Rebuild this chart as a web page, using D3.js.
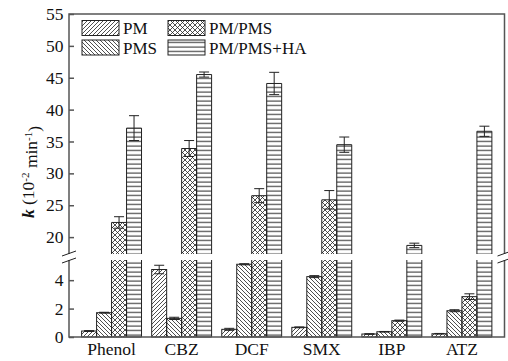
<!DOCTYPE html>
<html>
<head>
<meta charset="utf-8">
<script src="https://cdn.jsdelivr.net/npm/d3@7"></script>
<style>
  body { margin: 0; background: #fff; }
  svg { font-family: "Liberation Serif", "Times New Roman", serif; }
</style>
</head>
<body>
<svg id="chart" width="508" height="361"></svg>
<script>
var categories = ["Phenol", "CBZ", "DCF", "SMX", "IBP", "ATZ"]
var series = ["PM", "PMS", "PM/PMS", "PM/PMS+HA"]

var pm = [0.42, 4.75, 0.54, 0.68, 0.21, 0.23]
var pmErr = [0.03, 0.3, 0.07, 0.03, 0.02, 0.02]
var pms = [1.71, 1.31, 5.12, 4.25, 0.37, 1.85]
var pmsErr = [0.03, 0.08, 0.04, 0.07, 0.02, 0.07]
var pmPms = [22.3, 33.9, 26.5, 25.85, 1.15, 2.84]
var pmPmsErr = [0.9, 1.25, 1.1, 1.45, 0.04, 0.2]
var pmPmsHa = [37.1, 45.5, 44.1, 34.5, 18.7, 36.6]
var pmPmsHaErr = [1.95, 0.4, 1.75, 1.2, 0.35, 0.8]

var topTicks = [20, 25, 30, 35, 40, 45, 50, 55]
var bottomTicks = [0, 2, 4]

var values = [pm, pms, pmPms, pmPmsHa]
var errors = [pmErr, pmsErr, pmPmsErr, pmPmsHaErr]
var patternIds = ["hatchFwd", "hatchBack", "hatchCross", "hatchHoriz"]

var dim = {
  left: 69,
  right: 504.5,
  top: 14,
  bottom: 337,
  topSegBottom: 254,
  botSegTop: 260
}

var svg = d3.select("#chart")
var ink = "#222"
var axisColor = "#555"

// hatch patterns
var defs = svg.append("defs")
function pattern(id, w, h, d, sw){
  defs.append("pattern")
    .attr("id", id)
    .attr("patternUnits", "userSpaceOnUse")
    .attr("width", w)
    .attr("height", h)
    .append("path")
      .attr("d", d)
      .attr("stroke", ink)
      .attr("stroke-width", sw)
      .attr("fill", "none")
}
pattern("hatchFwd", 4, 4, "M-1,1 l2,-2 M0,4 l4,-4 M3,5 l2,-2", 0.8)
pattern("hatchBack", 4, 4, "M-1,3 l2,2 M0,0 l4,4 M3,-1 l2,2", 0.8)
pattern("hatchCross", 5, 5, "M0,0 l5,5 M5,0 l-5,5 M-1,4 l2,2 M4,-1 l2,2 M-1,1 l2,-2 M4,6 l2,-2", 0.8)
pattern("hatchHoriz", 10, 4.5, "M0,2 h10", 1)

var x = d3.scaleBand()
  .domain(categories)
  .range([dim.left, dim.right])
  .paddingInner(0.145)
  .paddingOuter(0.18)

var xs = d3.scaleBand()
  .domain(series)
  .range([0, x.bandwidth()])

var yTop = d3.scaleLinear()
  .domain([17.35, 55])
  .range([dim.topSegBottom, dim.top])

var yBot = d3.scaleLinear()
  .domain([0, 5.42])
  .range([dim.bottom, dim.botSegTop])

var botMax = yBot.domain()[1]

// bars
var bars = svg.append("g")
series.forEach(function(s, si){
  categories.forEach(function(c, ci){
    var v = values[si][ci]
    var x0 = x(c) + xs(s)
    var x1 = x0 + xs.bandwidth()
    var fill = "url(#" + patternIds[si] + ")"
    if(v <= botMax){
      bars.append("rect")
        .attr("x", x0)
        .attr("y", yBot(v))
        .attr("width", xs.bandwidth())
        .attr("height", yBot(0) - yBot(v))
        .attr("fill", fill)
        .attr("stroke", ink)
        .attr("stroke-width", 1)
    }
    else{
      bars.append("rect")
        .attr("x", x0)
        .attr("y", yBot(botMax))
        .attr("width", xs.bandwidth())
        .attr("height", yBot(0) - yBot(botMax))
        .attr("fill", fill)
      bars.append("path")
        .attr("d", `M${x0},${yBot(botMax)}V${yBot(0)}H${x1}V${yBot(botMax)}`)
        .attr("fill", "none")
        .attr("stroke", ink)
      var ty = yTop(v)
      bars.append("rect")
        .attr("x", x0)
        .attr("y", ty)
        .attr("width", xs.bandwidth())
        .attr("height", yTop.range()[0] - ty)
        .attr("fill", fill)
      bars.append("path")
        .attr("d", `M${x0},${yTop.range()[0]}V${ty}H${x1}V${yTop.range()[0]}`)
        .attr("fill", "none")
        .attr("stroke", ink)
    }
  })
})

// error bars
var errG = svg.append("g")
  .attr("stroke", ink)
  .attr("stroke-width", 1)
series.forEach(function(s, si){
  categories.forEach(function(c, ci){
    var v = values[si][ci]
    var e = errors[si][ci]
    var y = v <= botMax ? yBot : yTop
    var cx = x(c) + xs(s) + xs.bandwidth() / 2
    var hi = y(v + e), lo = y(v - e)
    errG.append("line")
      .attr("x1", cx).attr("x2", cx)
      .attr("y1", hi).attr("y2", lo)
    errG.append("line")
      .attr("x1", cx - 5).attr("x2", cx + 5)
      .attr("y1", hi).attr("y2", hi)
    errG.append("line")
      .attr("x1", cx - 5).attr("x2", cx + 5)
      .attr("y1", lo).attr("y2", lo)
  })
})

// frame with break
var frame = svg.append("g")
  .attr("stroke", axisColor)
  .attr("stroke-width", 1.5)
  .attr("fill", "none")
frame.append("path")
  .attr("d", `M${dim.left},${dim.topSegBottom}V${dim.top}H${dim.right}V${dim.topSegBottom}`)
frame.append("path")
  .attr("d", `M${dim.left},${dim.botSegTop}V${dim.bottom}H${dim.right}V${dim.botSegTop}`)

var breakG = svg.append("g")
  .attr("stroke", ink)
  .attr("stroke-width", 1)
;[dim.left, dim.right].forEach(function(ax){
  ;[dim.topSegBottom - 0.5, dim.botSegTop + 0.5].forEach(function(by){
    breakG.append("line")
      .attr("x1", ax - 7).attr("y1", by + 2.5)
      .attr("x2", ax + 7).attr("y2", by - 2.5)
  })
})

// y axes, ticks pointing inward
function yAxis(scale, ticks){
  var g = svg.append("g")
    .attr("transform", `translate(${dim.left},0)`)
    .call(d3.axisRight(scale).tickValues(ticks).tickSize(5).tickFormat(""))
  g.select(".domain").remove()
  g.selectAll("line").attr("stroke", axisColor).attr("stroke-width", 1.5)
  ticks.forEach(function(t){
    svg.append("text")
      .attr("x", dim.left - 5.5)
      .attr("y", scale(t))
      .attr("dy", "0.35em")
      .attr("text-anchor", "end")
      .style("font-size", "17.5px")
      .attr("fill", "#111")
      .text(t)
  })
}
yAxis(yTop, topTicks)
yAxis(yBot, bottomTicks)

// category labels
svg.append("g")
  .selectAll("text")
  .data(categories)
  .enter()
  .append("text")
    .attr("x", function(d){ return x(d) + x.bandwidth() / 2 })
    .attr("y", 355)
    .attr("text-anchor", "middle")
    .style("font-size", "17.5px")
    .attr("fill", "#111")
    .text(function(d){ return d })

// y title
var title = svg.append("text")
  .attr("transform", "translate(34,172)rotate(-90)")
  .attr("text-anchor", "middle")
  .style("font-size", "17.5px")
  .attr("fill", "#111")
title.append("tspan").style("font-style", "italic").style("font-weight", "bold").text("k")
title.append("tspan").text(" (10")
title.append("tspan").attr("dy", "-0.45em").style("font-size", "11px").text("-2")
title.append("tspan").attr("dy", "0.45em").text(" min")
title.append("tspan").attr("dy", "-0.45em").style("font-size", "11px").text("-1")
title.append("tspan").attr("dy", "0.45em").text(")")

// legend
var legendPos = [[82, 20.5], [82, 40], [168, 20.5], [168, 40]]
series.forEach(function(s, si){
  var p = legendPos[si]
  svg.append("rect")
    .attr("x", p[0])
    .attr("y", p[1])
    .attr("width", 37)
    .attr("height", 15)
    .attr("fill", "url(#" + patternIds[si] + ")")
    .attr("stroke", ink)
    .attr("stroke-width", 1)
  svg.append("text")
    .attr("x", p[0] + 41)
    .attr("y", p[1] + 13.5)
    .style("font-size", "17px")
    .attr("fill", "#111")
    .text(s)
})
</script>
</body>
</html>
